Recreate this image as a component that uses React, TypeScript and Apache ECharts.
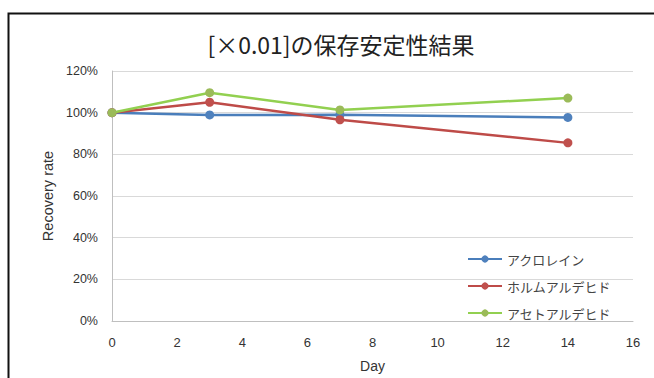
import React, { useEffect, useRef } from "react";
import * as echarts from "echarts";

const days = [0, 3, 7, 14];
const acrolein = [100, 98.9, 99.0, 97.7];
const formaldehyde = [100, 105.0, 96.6, 85.5];
const acetaldehyde = [100, 109.6, 101.3, 107.0];
const seriesNames = ["アクロレイン", "ホルムアルデヒド", "アセトアルデヒド"];
const lineColors = ["#4a7ebb", "#be4b48", "#92d050"];
const markerColors = ["#4f81bd", "#c0504d", "#9bbb59"];

const FONT = "'Liberation Sans', 'Noto Sans CJK JP', sans-serif";
const JFONT = "'Noto Sans CJK JP', sans-serif";

export default function App() {
  const ref = useRef<HTMLDivElement>(null);
  useEffect(() => {
    if (!ref.current) return;
    const chart = echarts.init(ref.current, undefined, { renderer: "svg" });
    const data = [acrolein, formaldehyde, acetaldehyde];
    chart.setOption({
      animation: false,
      backgroundColor: "#fff",
      title: {
        text: "[×0.01]の保存安定性結果",
        left: 336,
        textAlign: "center",
        top: 27,
        textStyle: { fontFamily: JFONT, fontSize: 23, fontWeight: "normal", color: "#222" },
      },
      graphic: [
        {
          type: "rect",
          shape: { x: 8.5, y: 13.5, width: 700, height: 400 },
          style: { fill: "none", stroke: "#111", lineWidth: 2 },
          silent: true,
        },
      ],
      legend: {
        orient: "vertical",
        left: 462,
        top: 247,
        itemWidth: 34,
        itemHeight: 9,
        itemGap: 13,
        data: seriesNames,
        textStyle: { fontFamily: JFONT, fontSize: 13, lineHeight: 14, color: "#444" },
      },
      grid: { left: 112, right: 21, top: 71, bottom: 52, containLabel: false },
      xAxis: {
        type: "value",
        min: 0,
        max: 16,
        interval: 2,
        name: "Day",
        nameLocation: "middle",
        nameGap: 38,
        nameTextStyle: { fontFamily: FONT, fontSize: 14, color: "#333" },
        axisLine: { show: true, lineStyle: { color: "#bfbfbf" } },
        axisTick: { show: false },
        splitLine: { show: false },
        axisLabel: { fontFamily: FONT, fontSize: 13, color: "#333", margin: 15 },
      },
      yAxis: {
        type: "value",
        min: 0,
        max: 120,
        interval: 20,
        name: "Recovery rate",
        nameLocation: "middle",
        nameGap: 56,
        nameTextStyle: { fontFamily: FONT, fontSize: 14.5, color: "#333" },
        axisLine: { show: true, lineStyle: { color: "#bfbfbf" } },
        axisTick: { show: false },
        splitLine: { show: true, lineStyle: { color: "#d9d9d9" } },
        axisLabel: { fontFamily: FONT, fontSize: 12.5, color: "#333", margin: 14, formatter: "{value}%" },
      },
      series: data.map((vals, i) => ({
        name: seriesNames[i],
        type: "line",
        data: days.map((d, j) => [d, vals[j]]),
        symbol: "circle",
        symbolSize: 9,
        lineStyle: { color: lineColors[i], width: 2.5 },
        itemStyle: { color: markerColors[i] },
        z: 2 + (i === 1 ? 1 : i === 2 ? 2 : 0),
      })),
    });
    return () => chart.dispose();
  }, []);
  return <div ref={ref} style={{ position: "fixed", left: 0, top: 0, width: 654, height: 378 }} />;
}
